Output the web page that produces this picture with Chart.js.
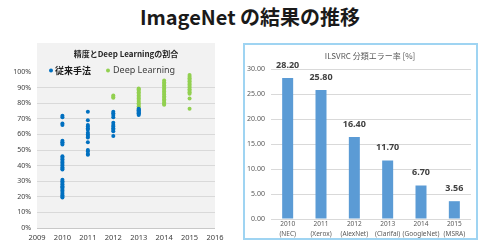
<!DOCTYPE html>
<html><head><meta charset="utf-8">
<script src="https://cdn.jsdelivr.net/npm/chart.js@4/dist/chart.umd.min.js"></script>
<style>
html,body{margin:0;padding:0;background:#fff;width:500px;height:243px;overflow:hidden}
#title{position:absolute;left:0;top:2px;width:500px;text-align:center;font:700 20px 'Noto Sans CJK JP',sans-serif;color:#1a1a1a;line-height:30px;white-space:nowrap}
canvas{position:absolute;left:0;top:0}
</style></head><body>
<div id="title">ImageNet の結果の推移</div>
<canvas id="left" width="500" height="243"></canvas>
<canvas id="right" width="500" height="243"></canvas>
<script>
// ---- Left chart data (accuracy, %) ----
const conv2010 = [72, 71, 67, 66, 56, 55, 54.5, 53.5, 46, 45, 44, 43, 42, 41, 40, 39, 38, 37.5, 31, 30, 29, 28, 27, 26.5, 26, 25, 24, 23, 22, 21, 20, 19.5];
const conv2011 = [74.5, 69, 66, 65, 64, 63, 61, 60, 59, 58, 55, 50, 49, 47.5, 47];
const conv2012 = [74.5, 73.5, 72.5, 71, 67.5, 66, 65, 64, 63, 62, 59];
const conv2013 = [76.5, 76, 75.5, 75, 74.5, 74, 73.5, 73, 72.5];
const dl2012 = [85, 84, 83.5];
const dl2013 = [89.5, 89, 88, 87, 86, 85, 84, 83, 82, 81, 80, 79, 78, 77];
const dl2014 = [94.5, 93.5, 92.5, 91.5, 90.5, 89.5, 88.5, 87.5, 86.5, 85.5, 84.5, 83.5, 82.5, 81.5, 80.5, 79.5, 79];
const dl2015 = [98, 97, 96, 95, 94, 93, 92, 91, 90, 89, 88, 87, 86, 83, 76.5];
const seriesNames = ['従来手法', 'Deep Learning'];
const leftTitle = '精度とDeep Learningの割合';
const yearTicks = [2009, 2010, 2011, 2012, 2013, 2014, 2015, 2016];
const pctTicks = [0, 10, 20, 30, 40, 50, 60, 70, 80, 90, 100];

// ---- Right chart data (error rate) ----
const barCategories = [['2010','(NEC)'],['2011','(Xerox)'],['2012','(AlexNet)'],['2013','(Clarifai)'],['2014','(GoogleNet)'],['2015','(MSRA)']];
const barValues = [28.20, 25.80, 16.40, 11.70, 6.70, 3.56];
const rightTitle = 'ILSVRC 分類エラー率 [%]';
const errTicks = [0, 5, 10, 15, 20, 25, 30];

const FAM = "'Noto Sans','Noto Sans CJK JP',sans-serif";
const CJK = "'Noto Sans CJK JP','Noto Sans',sans-serif";
Chart.defaults.font.family = FAM;

function pts(year, arr){ return arr.map(v => ({x: year, y: v})); }
const convPts = [].concat(pts(2010, conv2010), pts(2011, conv2011), pts(2012, conv2012), pts(2013, conv2013));
const dlPts = [].concat(pts(2012, dl2012), pts(2013, dl2013), pts(2014, dl2014), pts(2015, dl2015));

const BLUE = '#0070c0', GREEN = '#92d050';

const leftPanel = {
  id: 'leftPanel',
  beforeDraw(chart){
    const ctx = chart.ctx, a = chart.chartArea;
    ctx.save();
    ctx.fillStyle = '#f2f2f2';
    ctx.fillRect(a.left, 43, a.right - a.left, a.bottom - 43);
    ctx.restore();
  },
  afterDraw(chart){
    const ctx = chart.ctx, a = chart.chartArea;
    ctx.save();
    ctx.textBaseline = 'middle';
    ctx.textAlign = 'center';
    ctx.fillStyle = '#262626';
    ctx.font = 'bold 8px ' + CJK;
    ctx.fillText(leftTitle, (a.left + a.right) / 2, 54);
    // legend
    ctx.textAlign = 'left';
    ctx.fillStyle = BLUE;
    ctx.beginPath(); ctx.arc(51, 70.5, 2, 0, Math.PI*2); ctx.fill();
    ctx.fillStyle = '#1a1a1a';
    ctx.font = 'bold 9px ' + CJK;
    ctx.fillText(seriesNames[0], 55, 70.5);
    ctx.fillStyle = GREEN;
    ctx.beginPath(); ctx.arc(108, 70.5, 2, 0, Math.PI*2); ctx.fill();
    ctx.fillStyle = '#404040';
    ctx.font = '9px ' + FAM;
    ctx.fillText(seriesNames[1], 113, 70.5);
    ctx.restore();
  }
};

new Chart(document.getElementById('left'), {
  type: 'scatter',
  data: { datasets: [
    { label: seriesNames[0], data: convPts, backgroundColor: BLUE, borderColor: BLUE, pointRadius: 2, borderWidth: 0 },
    { label: seriesNames[1], data: dlPts, backgroundColor: GREEN, borderColor: GREEN, pointRadius: 2, borderWidth: 0 }
  ]},
  options: {
    responsive: false, animation: false,
    layout: { padding: { left: 0, top: 72, right: 285, bottom: 0 } },
    plugins: { legend: { display: false }, title: { display: false }, tooltip: { enabled: false } },
    scales: {
      x: {
        type: 'linear', min: yearTicks[0], max: yearTicks[yearTicks.length-1],
        afterFit(s){ s.height = 15; },
        afterBuildTicks(s){ s.ticks = yearTicks.map(v => ({value: v})); },
        grid: { display: false, drawTicks: false }, border: { display: false },
        ticks: { padding: 5, callback: v => String(v), color: '#404040', font: { size: 7.5 }, maxRotation: 0, autoSkip: false }
      },
      y: {
        min: 0, max: 100,
        afterFit(s){ s.width = 37; },
        afterBuildTicks(s){ s.ticks = pctTicks.map(v => ({value: v})); },
        grid: { drawTicks: false, color: c => c.tick && c.tick.value === 100 ? 'rgba(0,0,0,0)' : (c.tick && c.tick.value === 0 ? '#c8c8c8' : '#d9d9d9') },
        border: { display: false },
        ticks: { padding: 6, callback: v => v + '%', color: '#404040', font: { size: 7 } }
      }
    }
  },
  plugins: [leftPanel]
});

const rightDeco = {
  id: 'rightDeco',
  beforeDraw(chart){
    const ctx = chart.ctx;
    ctx.save();
    ctx.strokeStyle = '#9fd4f2';
    ctx.lineWidth = 2;
    ctx.strokeRect(244, 44, 233, 195);
    ctx.restore();
  },
  afterDatasetsDraw(chart){
    const ctx = chart.ctx, a = chart.chartArea;
    const meta = chart.getDatasetMeta(0);
    ctx.save();
    ctx.fillStyle = '#595959';
    ctx.font = '8px ' + CJK;
    ctx.textAlign = 'center';
    ctx.textBaseline = 'middle';
    ctx.fillText(rightTitle, 370, 56);
    ctx.fillStyle = '#404040';
    ctx.font = 'bold 9px ' + FAM;
    meta.data.forEach((bar, i) => {
      ctx.fillText(barValues[i].toFixed(2), bar.x, bar.y - 13);
    });
    ctx.restore();
  }
};

new Chart(document.getElementById('right'), {
  type: 'bar',
  data: { labels: barCategories, datasets: [{ data: barValues, backgroundColor: '#5b9bd5', barPercentage: 0.33, categoryPercentage: 1 }] },
  options: {
    responsive: false, animation: false,
    layout: { padding: { left: 241, top: 69, right: 29, bottom: 0 } },
    plugins: { legend: { display: false }, title: { display: false }, tooltip: { enabled: false } },
    scales: {
      x: {
        afterFit(s){ s.height = 24; },
        grid: { display: false, drawTicks: false }, border: { display: false },
        ticks: { padding: 1, color: '#595959', font: { size: 6.5, lineHeight: 1.4 }, maxRotation: 0, autoSkip: false }
      },
      y: {
        min: 0, max: 30,
        afterFit(s){ s.width = 30; },
        afterBuildTicks(s){ s.ticks = errTicks.map(v => ({value: v})); },
        grid: { drawTicks: false, color: '#d9d9d9' }, border: { display: false },
        ticks: { padding: 6, callback: v => v.toFixed(2), color: '#595959', font: { size: 7 } }
      }
    }
  },
  plugins: [rightDeco]
});
</script>
</body></html>
